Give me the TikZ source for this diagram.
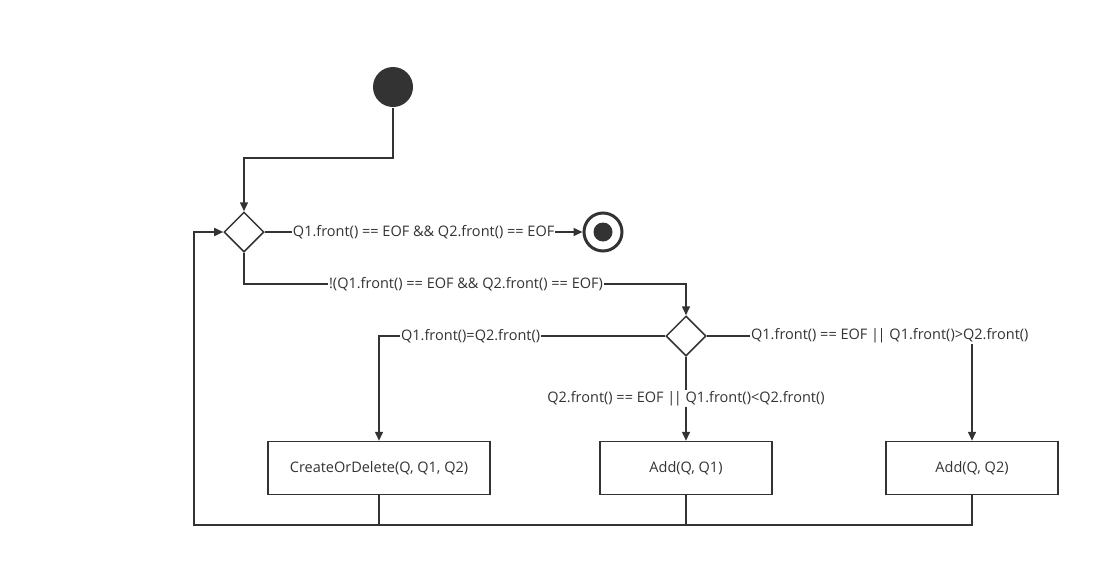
\documentclass[tikz,border=0pt]{standalone}
\usepackage{fontspec}
\setmainfont{Open Sans}
\usetikzlibrary{shapes.geometric, arrows.meta, calc}
\definecolor{ink}{HTML}{333333}
\newcommand{\oder}{|\kern-1.5pt|}

\begin{document}
\begin{tikzpicture}[x=1pt, y=-1pt, line width=1.5pt, draw=ink, text=ink,
    font=\fontsize{14.5}{16}\selectfont,
    >={Triangle[length=9pt,width=8pt]},
    choice/.style={diamond, draw, fill=white, minimum size=40pt, inner sep=0pt},
    action/.style={rectangle, draw, fill=white, minimum width=172pt, minimum height=53pt},
    guard/.style={fill=white, inner sep=1pt}]
    \useasboundingbox (0,0) rectangle (1120,587);
    % Zustaende
    \node[circle, fill=ink, minimum size=40pt, inner sep=0pt] (start) at (393,87) {};
    \node[circle, draw, line width=3pt, minimum size=38pt, inner sep=0pt] (stop) at (603,232) {};
    \node[circle, fill=ink, minimum size=19pt, inner sep=0pt] (stopdot) at (603,232) {};
    \node[choice] (check) at (244,232) {};
    \node[choice] (cmp) at (686,336) {};
    % Aktionen
    \node[action, minimum width=222pt] (merge) at (379,468) {CreateOrDelete(Q, Q1, Q2)};
    \node[action] (addone) at (686,468) {Add(Q, Q1)};
    \node[action] (addtwo) at (972,468) {Add(Q, Q2)};
    % Kanten
    \draw[->] (start) |- (318,158) -| (check);
    \draw[->] (check) -- node[guard] {Q1.front() == EOF \&\& Q2.front() == EOF} (stop);
    \draw[->] (check) |- (466,284) node[guard] {!(Q1.front() == EOF \&\& Q2.front() == EOF)} -| (cmp);
    \draw[->] (cmp) -- node[guard, pos=0.68] {Q1.front()=Q2.front()} (379,336) -- (merge);
    \draw[->] (cmp) -- node[guard] {Q2.front() == EOF \oder{} Q1.front()<Q2.front()} (addone);
    \draw[->] (cmp) -- node[guard, pos=0.69] {Q1.front() == EOF \oder{} Q1.front()>Q2.front()} (972,336) -- (addtwo);
    % Rueckweg
    \coordinate (back) at (194,525);
    \draw (merge) -- (379,525);
    \draw (addone) -- (686,525);
    \draw[->] (addtwo) |- (back) |- (check);
\end{tikzpicture}
\end{document}
